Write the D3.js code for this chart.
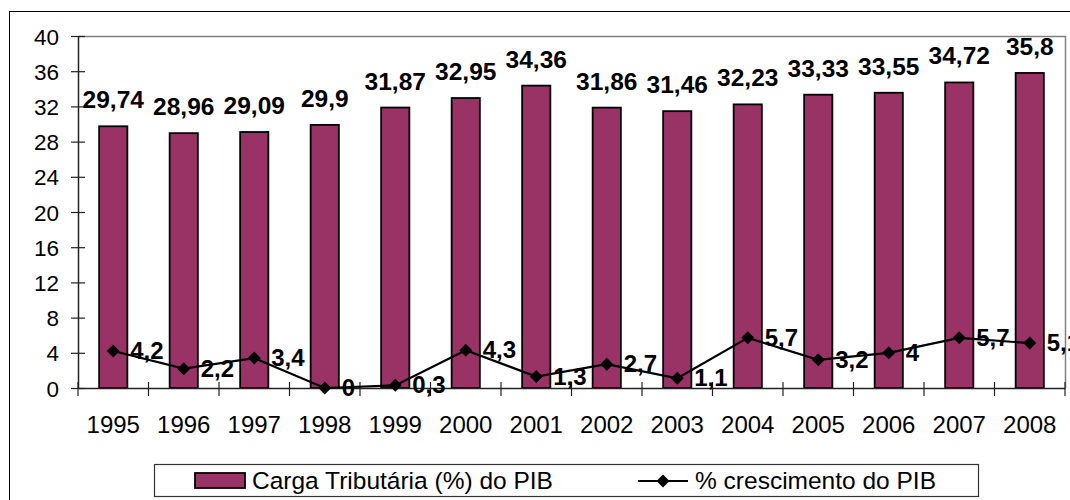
<!DOCTYPE html>
<html>
  <head>
    <meta charset="UTF-8">
    <script type="text/javascript" src="https://d3js.org/d3.v7.min.js"></script>
    <style type="text/css">
      body { margin: 0; background: white; }
      svg { display: block; font-family: "Liberation Sans", Arial, sans-serif; }
    </style>
  </head>
<body>
<script type="text/javascript">
var years = ['1995', '1996', '1997', '1998', '1999', '2000', '2001', '2002', '2003', '2004', '2005', '2006', '2007', '2008']
var cargaTributaria = [29.74, 28.96, 29.09, 29.9, 31.87, 32.95, 34.36, 31.86, 31.46, 32.23, 33.33, 33.55, 34.72, 35.8]
var crescimentoPIB = [4.2, 2.2, 3.4, 0, 0.3, 4.3, 1.3, 2.7, 1.1, 5.7, 3.2, 4, 5.7, 5.1]
var yTicks = [0, 4, 8, 12, 16, 20, 24, 28, 32, 36, 40]
var seriesNames = ['Carga Tributária (%) do PIB', '% crescimento do PIB']

var svgWidth = 1070
var svgHeight = 500
var plot = {left: 78, right: 1065, top: 36, bottom: 388}
var barColor = '#993366'

// comma as decimal separator
function fmt(v) { return String(v).replace('.', ',') }

var svg = d3.select('body').append('svg')
  .attr('width', svgWidth)
  .attr('height', svgHeight)

// outer chart border (runs off the page on right and bottom)
svg.append('rect')
  .attr('x', 9.5).attr('y', 11.5)
  .attr('width', 1100).attr('height', 540)
  .attr('fill', 'white')
  .attr('stroke', '#000')
  .attr('stroke-width', 1)

var x = d3.scaleBand()
  .domain(years)
  .range([plot.left, plot.right])
  .padding(0)

var y = d3.scaleLinear()
  .domain([0, 40])
  .range([plot.bottom, plot.top])

var bw = x.bandwidth() * 0.4

// plot area frame, gray top and right
svg.append('path')
  .attr('d', 'M' + plot.left + ',' + (plot.top + 0.5) + 'H' + (plot.right + 0.5) + 'V' + plot.bottom)
  .attr('fill', 'none')
  .attr('stroke', '#808080')
  .attr('stroke-width', 1.5)

// bars
svg.selectAll('.bar')
  .data(cargaTributaria)
  .enter()
  .append('rect')
  .attr('class', 'bar')
  .attr('x', function(d, i) { return x(years[i]) + (x.bandwidth() - bw) / 2 })
  .attr('y', function(d) { return y(d) })
  .attr('width', bw)
  .attr('height', function(d) { return y(0) - y(d) })
  .attr('fill', barColor)
  .attr('stroke', '#000')
  .attr('stroke-width', 1.8)

// y axis
var yAxis = d3.axisLeft(y)
  .tickValues(yTicks)
  .tickSize(0)
  .tickFormat(function(d) { return d })

var gY = svg.append('g')
  .attr('transform', 'translate(' + plot.left + ',0)')
  .call(yAxis)
gY.select('.domain').attr('stroke', '#222').attr('stroke-width', 1.5)
gY.selectAll('.tick line')
  .attr('x1', -7).attr('x2', 7)
  .attr('stroke', '#222').attr('stroke-width', 1.2)
gY.selectAll('.tick text')
  .attr('x', -19)
  .attr('dy', '0.36em')
  .style('font-size', '22.5px')
  .style('font-family', '"Liberation Sans", Arial, sans-serif')
  .attr('fill', '#000')

// x axis: ticks on category boundaries
var gX = svg.append('g')
  .attr('transform', 'translate(0,' + plot.bottom + ')')
  .call(d3.axisBottom(x).tickSize(0).tickPadding(0))
gX.select('.domain').attr('stroke', '#222').attr('stroke-width', 1.5)
gX.selectAll('.tick text')
  .attr('y', 45)
  .attr('dy', 0)
  .style('font-size', '24px')
  .style('font-family', '"Liberation Sans", Arial, sans-serif')
  .attr('fill', '#000')
gX.selectAll('.bound')
  .data(years.concat(['end']))
  .enter()
  .append('line')
  .attr('class', 'bound')
  .attr('x1', function(d) { return d === 'end' ? plot.right : x(d) })
  .attr('x2', function(d) { return d === 'end' ? plot.right : x(d) })
  .attr('y1', -6).attr('y2', 8)
  .attr('stroke', '#222').attr('stroke-width', 1.2)

// bar value labels
svg.selectAll('.barlabel')
  .data(cargaTributaria)
  .enter()
  .append('text')
  .attr('class', 'barlabel')
  .attr('x', function(d, i) { return x(years[i]) + x.bandwidth() / 2 })
  .attr('y', function(d) { return y(d) - 18 })
  .attr('text-anchor', 'middle')
  .style('font-size', '24.5px')
  .style('font-weight', 'bold')
  .text(fmt)

// growth line
var line = d3.line()
  .x(function(d, i) { return x(years[i]) + x.bandwidth() / 2 })
  .y(function(d) { return y(d) })

svg.append('path')
  .datum(crescimentoPIB)
  .attr('d', line)
  .attr('fill', 'none')
  .attr('stroke', '#000')
  .attr('stroke-width', 2.2)

function diamond(cx, cy, r) {
  return 'M' + cx + ',' + (cy - r) + 'L' + (cx + r) + ',' + cy + 'L' + cx + ',' + (cy + r) + 'L' + (cx - r) + ',' + cy + 'Z'
}

svg.selectAll('.marker')
  .data(crescimentoPIB)
  .enter()
  .append('path')
  .attr('class', 'marker')
  .attr('d', function(d, i) { return diamond(x(years[i]) + x.bandwidth() / 2, y(d), 6.5) })
  .attr('fill', '#000')

svg.selectAll('.linelabel')
  .data(crescimentoPIB)
  .enter()
  .append('text')
  .attr('class', 'linelabel')
  .attr('x', function(d, i) { return x(years[i]) + x.bandwidth() / 2 + 17 })
  .attr('y', function(d) { return y(d) + 8 })
  .style('font-size', '24px')
  .style('font-weight', 'bold')
  .text(fmt)

// legend
var legend = svg.append('g')
legend.append('rect')
  .attr('x', 154.5).attr('y', 464.5)
  .attr('width', 824).attr('height', 32)
  .attr('fill', 'white')
  .attr('stroke', '#333')
  .attr('stroke-width', 1.2)
legend.append('rect')
  .attr('x', 195).attr('y', 473)
  .attr('width', 50).attr('height', 15)
  .attr('fill', barColor)
  .attr('stroke', '#000')
  .attr('stroke-width', 1.8)
legend.append('text')
  .attr('x', 252).attr('y', 489)
  .style('font-size', '24.5px')
  .text(seriesNames[0])
legend.append('line')
  .attr('x1', 638).attr('x2', 688)
  .attr('y1', 481).attr('y2', 481)
  .attr('stroke', '#000').attr('stroke-width', 2.2)
legend.append('path')
  .attr('d', diamond(663, 481, 6.5))
  .attr('fill', '#000')
legend.append('text')
  .attr('x', 695).attr('y', 489)
  .style('font-size', '24.5px')
  .text(seriesNames[1])
</script>
</body>
</html>
